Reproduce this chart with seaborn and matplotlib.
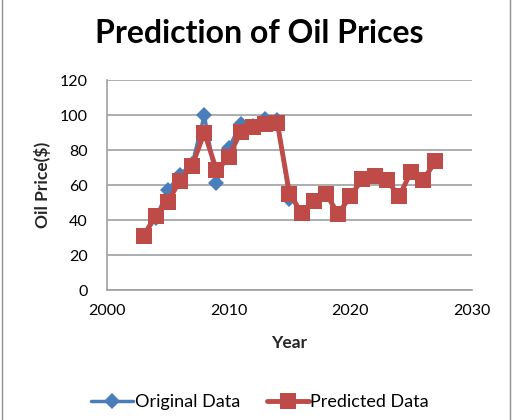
import pandas as pd
import matplotlib.pyplot as plt
import seaborn as sns
from matplotlib.patches import Rectangle

sns.set_style("white")
plt.rcParams['font.family'] = ['Lato', 'DejaVu Sans']
plt.rcParams['text.color'] = 'black'

orig_years = list(range(2003, 2016))
orig_price = [31, 41, 57, 66, 72, 100, 61, 81, 95, 94, 98, 97, 52]

pred_years = list(range(2003, 2028))
pred_price = [31, 42.5, 50.5, 62.5, 71, 90, 68.5, 76, 90.5, 93, 95, 95.5, 55,
              44, 51, 55, 43.5, 53.5, 63.5, 65, 63, 53.5, 67.5, 63, 73.5]

df_orig = pd.DataFrame({"Year": orig_years, "Price": orig_price})
df_pred = pd.DataFrame({"Year": pred_years, "Price": pred_price})

fig = plt.figure(figsize=(5.13, 4.2), dpi=100)
ax = fig.add_axes([0.2086, 0.3095, 0.7114, 0.50])

sns.lineplot(data=df_orig, x="Year", y="Price", ax=ax, color="#4a7ebb",
             marker="D", markersize=8, linewidth=2.5, markeredgewidth=0,
             label="Original Data")
sns.lineplot(data=df_pred, x="Year", y="Price", ax=ax, color="#be4b48",
             marker="s", markersize=11, linewidth=3.5, markeredgewidth=0,
             label="Predicted Data")

ax.set_xlim(2000, 2030)
ax.set_ylim(0, 120)
ax.set_xticks(range(2000, 2031, 10))
ax.set_yticks(range(0, 121, 20))
ax.yaxis.grid(True, color="#a0a0a0", linewidth=1.2)
ax.xaxis.grid(False)
for side in ["top", "right"]:
    ax.spines[side].set_visible(False)
for side in ["left", "bottom"]:
    ax.spines[side].set_color("#a0a0a0")
    ax.spines[side].set_linewidth(1.2)
ax.tick_params(axis="both", labelsize=11.5, length=0, labelcolor="black")
ax.tick_params(axis="x", pad=10)
ax.tick_params(axis="y", pad=14)

ax.set_xlabel("Year", fontsize=12.5, fontweight="bold", labelpad=12)
ax.set_ylabel("Oil Price($)", fontsize=12.5, fontweight="bold", labelpad=6)
fig.suptitle("Prediction of Oil Prices", fontsize=23, fontweight="bold",
             x=0.505, y=0.955)

ax.legend(loc="upper center", bbox_to_anchor=(0.42, -0.42), ncol=2,
          frameon=False, fontsize=13, handlelength=2.3, columnspacing=1.5,
          handletextpad=0.1)

fig.patches.append(Rectangle((0.003, -0.01), 0.991, 1.02, transform=fig.transFigure,
                             fill=False, edgecolor="#909090", linewidth=1))

plt.savefig("out.png", dpi=100)
